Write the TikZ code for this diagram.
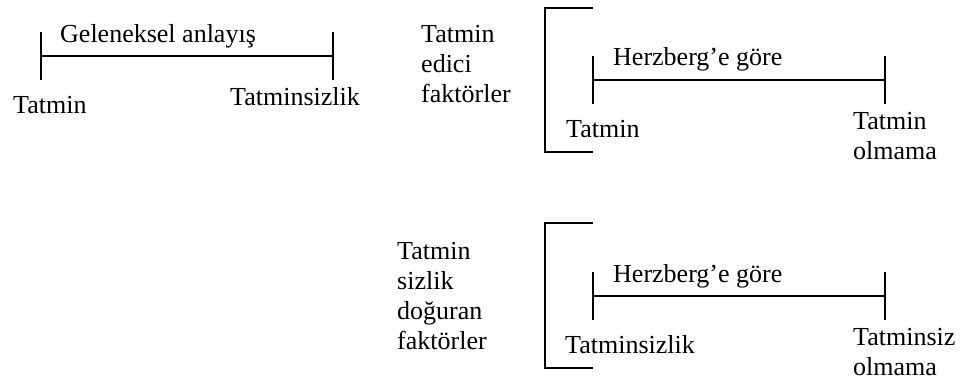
\documentclass[tikz,border=0pt]{standalone}
\usepackage{fontspec}
\setmainfont{Liberation Serif}

\begin{document}
\begin{tikzpicture}[x=1pt,y=-1pt,
  every node/.style={inner sep=0pt, anchor=base west, align=left,
    font=\fontsize{26}{30}\selectfont},
  cizgi/.style={line width=1.6pt}]

\useasboundingbox (0,0) rectangle (963,380);

\def\tik{24}

% geleneksel anlayis
\coordinate (gsol) at (41,56);
\coordinate (gsag) at (333,56);
\draw[cizgi] (gsol) -- (gsag);
\foreach \c in {gsol, gsag}
   \draw[cizgi] ([yshift=\tik]\c) -- ([yshift=-\tik]\c);
\node (gbaslik) at (60,42) {Geleneksel anlayış};
\node (gtatmin) at (13,113) {Tatmin};
\node (gtatminsiz) at (230,105) {Tatminsizlik};

% Herzberg, tatmin edici faktorler
\coordinate (ku1) at (593,8);
\coordinate (ka1) at (593,152);
\draw[cizgi] (ku1) -| (545,80) |- (ka1);
\coordinate (hsol1) at (593,80);
\coordinate (hsag1) at (885,80);
\draw[cizgi] (hsol1) -- (hsag1);
\foreach \c in {hsol1, hsag1}
   \draw[cizgi] ([yshift=\tik]\c) -- ([yshift=-\tik]\c);
\node (faktor1) at (421,102) {Tatmin\\edici\\faktörler};
\node (hbaslik1) at (613,65) {Herzberg’e göre};
\node (htatmin1) at (566,137) {Tatmin};
\node (holmama1) at (853,159) {Tatmin\\olmama};

% Herzberg, tatminsizlik doguran faktorler
\coordinate (ku2) at (593,223);
\coordinate (ka2) at (593,368);
\draw[cizgi] (ku2) -| (545,296) |- (ka2);
\coordinate (hsol2) at (593,296);
\coordinate (hsag2) at (885,296);
\draw[cizgi] (hsol2) -- (hsag2);
\foreach \c in {hsol2, hsag2}
   \draw[cizgi] ([yshift=\tik]\c) -- ([yshift=-\tik]\c);
\node (faktor2) at (397,349) {Tatmin\\sizlik\\doğuran\\faktörler};
\node (hbaslik2) at (613,282) {Herzberg’e göre};
\node (htatmin2) at (565,353) {Tatminsizlik};
\node (holmama2) at (853,375) {Tatminsiz\\olmama};

\end{tikzpicture}
\end{document}
